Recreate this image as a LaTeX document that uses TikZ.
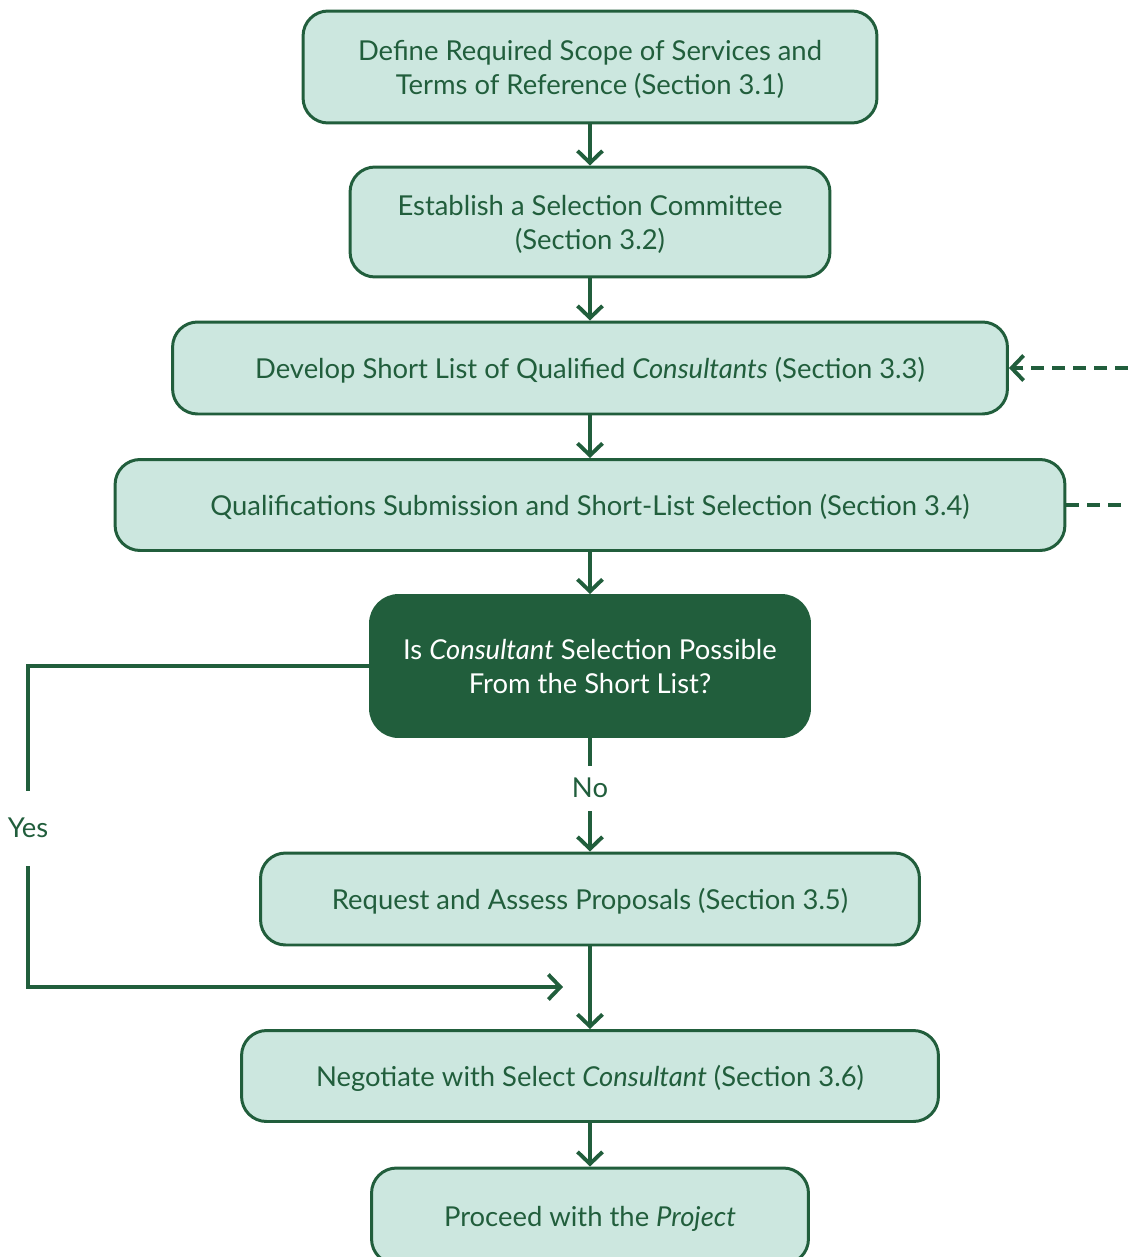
\documentclass[tikz,border=0pt]{standalone}
\usepackage{fontspec}
\setmainfont{Lato}
\usepackage{tikz}
\usetikzlibrary{positioning,arrows.meta,calc}
\definecolor{darkgreen}{HTML}{215E3C}
\definecolor{mint}{HTML}{CCE7DF}
\tikzstyle{process}   = [rectangle, rounded corners=0.5cm, draw=darkgreen, line width=1.7pt, fill=mint, text=darkgreen, align=center, inner sep=0pt, text depth=0pt, font=\fontsize{15.6}{19.4}\selectfont]
\tikzstyle{decision}  = [process, fill=darkgreen, text=white, rounded corners=0.56cm]
\tikzstyle{arrow}     = [line width=2.2pt, draw=darkgreen, -{Straight Barb[length=2.4mm,width=5mm]}]
\tikzstyle{dasharrow} = [arrow, dash pattern=on 0.26cm off 0.16cm]
\tikzstyle{label}     = [fill=white, text=darkgreen, inner xsep=1pt, font=\fontsize{15.6}{18}\selectfont]

\begin{document}
\begin{tikzpicture}[x=0.02cm, y=-0.02cm]
        \useasboundingbox (0,0) rectangle (1128,1257);

        \node[process, minimum width=11.48cm, minimum height=2.24cm] (scope) at (590,67) {Define Required Scope of Services and\\Terms of Reference (Section 3.1)};
        \node[process, minimum width=9.6cm, minimum height=2.2cm] (committee) at (590,222) {Establish a Selection Committee\\(Section 3.2)};
        \node[process, minimum width=16.7cm, minimum height=1.84cm] (shortlist) at (590,368) {Develop Short List of Qualified \textit{Consultants} (Section 3.3)};
        \node[process, minimum width=19cm, minimum height=1.82cm] (quals) at (590,505) {Qualifications Submission and Short-List Selection (Section 3.4)};
        \node[decision, minimum width=8.78cm, minimum height=2.82cm] (possible) at (590,666) {Is \textit{Consultant} Selection Possible\\From the Short List?};
        \node[process, minimum width=13.18cm, minimum height=1.84cm] (proposals) at (590,899) {Request and Assess Proposals (Section 3.5)};
        \node[process, minimum width=13.94cm, minimum height=1.82cm] (negotiate) at (590,1076) {Negotiate with Select \textit{Consultant} (Section 3.6)};
        \node[process, minimum width=8.74cm, minimum height=1.92cm] (proceed) at (590,1216) {Proceed with the \textit{Project}};

        \draw[arrow] (scope) -- (committee);
        \draw[arrow] (committee) -- (shortlist);
        \draw[arrow] (shortlist) -- (quals);
        \draw[arrow] (quals) -- (possible);
        \draw[arrow] (proposals) -- (negotiate);
        \draw[arrow] (negotiate) -- (proceed);

        % No branch
        \draw[arrow] (possible) -- (proposals);
        \node[label, minimum height=0.9cm] (no) at (590,788) {No};

        % Yes branch
        \coordinate (yescorner) at (28,987);
        \coordinate (yesend) at (563,987);
        \draw[arrow] (possible.west) -| (yescorner) -- (yesend);
        \node[label, minimum height=1.5cm] (yes) at (28,828) {Yes};

        % loops off the right edge
        \coordinate (loopin) at (1128,368);
        \coordinate (loopout) at (1128,505);
        \draw[dasharrow] (loopin) -- (shortlist.east);
        \draw[dasharrow, -] (quals.east) -- (loopout);
    \end{tikzpicture}
\end{document}
